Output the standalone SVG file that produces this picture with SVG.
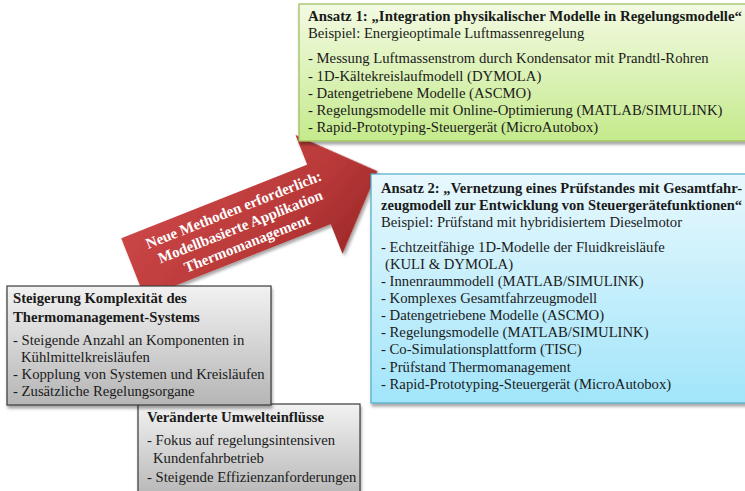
<svg xmlns="http://www.w3.org/2000/svg" width="745" height="491" viewBox="0 0 745 491">
<style>
  text { font-family: "Liberation Serif", "Times New Roman", serif; font-size: 14.7px; fill: #1a1a1a; }
  .b { font-weight: bold; }
  .at { font-size: 15px; font-weight: bold; fill: #ffffff; text-anchor: middle; }
</style>
<defs>
  <linearGradient id="gGreen" x1="0" y1="0" x2="0" y2="1">
    <stop offset="0" stop-color="#f3fae3"/>
    <stop offset="1" stop-color="#c5ea8c"/>
  </linearGradient>
  <linearGradient id="gBlue" x1="0" y1="0" x2="0" y2="1">
    <stop offset="0" stop-color="#e8f8fd"/>
    <stop offset="1" stop-color="#a2e5fa"/>
  </linearGradient>
  <linearGradient id="gGray" x1="0" y1="0" x2="0" y2="1">
    <stop offset="0" stop-color="#f2f2f2"/>
    <stop offset="1" stop-color="#b5b5b5"/>
  </linearGradient>
  <linearGradient id="gRed" x1="0" y1="0" x2="1" y2="1">
    <stop offset="0" stop-color="#d04a4a"/>
    <stop offset="0.6" stop-color="#b83838"/>
    <stop offset="1" stop-color="#962424"/>
  </linearGradient>
  <filter id="sh" x="-5%" y="-5%" width="110%" height="115%">
    <feDropShadow dx="1" dy="3" stdDeviation="1.5" flood-color="#000" flood-opacity="0.35"/>
  </filter>
</defs>

<g id="arrow" transform="translate(133,268) rotate(-21.6)">
  <polygon points="0,-32 200,-32 200,-64 263,0 200,64 200,32 0,32" fill="url(#gRed)" filter="url(#sh)"/>
  <text class="at" x="115" y="-12">Neue Methoden erforderlich:</text>
  <text class="at" x="115" y="6">Modellbasierte Applikation</text>
  <text class="at" x="115" y="24">Thermomanagement</text>
</g>

<g id="ansatz1">
  <rect x="299" y="4" width="450" height="137" fill="url(#gGreen)" stroke="#9bbb59" stroke-width="1.2" filter="url(#sh)"/>
  <text class="b" x="308" y="21" textLength="434" lengthAdjust="spacingAndGlyphs">Ansatz 1: „Integration physikalischer Modelle in Regelungsmodelle“</text>
  <text x="308" y="38">Beispiel: Energieoptimale Luftmassenregelung</text>
  <text x="308" y="63">- Messung Luftmassenstrom durch Kondensator mit Prandtl-Rohren</text>
  <text x="308" y="81">- 1D-Kältekreislaufmodell (DYMOLA)</text>
  <text x="308" y="98">- Datengetriebene Modelle (ASCMO)</text>
  <text x="308" y="115">- Regelungsmodelle mit Online-Optimierung (MATLAB/SIMULINK)</text>
  <text x="308" y="132">- Rapid-Prototyping-Steuergerät (MicroAutobox)</text>
</g>

<g id="ansatz2">
  <rect x="371" y="174" width="378" height="229" fill="url(#gBlue)" stroke="#4bacc6" stroke-width="1.2" filter="url(#sh)"/>
  <text class="b" x="381" y="193" textLength="361" lengthAdjust="spacingAndGlyphs">Ansatz 2: „Vernetzung eines Prüfstandes mit Gesamtfahr-</text>
  <text class="b" x="381" y="210" textLength="361" lengthAdjust="spacingAndGlyphs">zeugmodell zur Entwicklung von Steuergerätefunktionen“</text>
  <text x="381" y="227">Beispiel: Prüfstand mit hybridisiertem Dieselmotor</text>
  <text x="381" y="252">- Echtzeitfähige 1D-Modelle der Fluidkreisläufe</text>
  <text x="385" y="269">(KULI &amp; DYMOLA)</text>
  <text x="381" y="286">- Innenraummodell (MATLAB/SIMULINK)</text>
  <text x="381" y="303">- Komplexes Gesamtfahrzeugmodell</text>
  <text x="381" y="320">- Datengetriebene Modelle (ASCMO)</text>
  <text x="381" y="337">- Regelungsmodelle (MATLAB/SIMULINK)</text>
  <text x="381" y="354">- Co-Simulationsplattform (TISC)</text>
  <text x="381" y="372">- Prüfstand Thermomanagement</text>
  <text x="381" y="389">- Rapid-Prototyping-Steuergerät (MicroAutobox)</text>
</g>

<g id="umwelt">
  <rect x="138" y="404" width="222" height="95" fill="url(#gGray)" stroke="#3a3a3a" stroke-width="1.2" filter="url(#sh)"/>
  <text class="b" x="147" y="422">Veränderte Umwelteinflüsse</text>
  <text x="147" y="445">- Fokus auf regelungsintensiven</text>
  <text x="153" y="463">Kundenfahrbetrieb</text>
  <text x="147" y="482">- Steigende Effizienzanforderungen</text>
</g>

<g id="komplexitaet">
  <rect x="7" y="286" width="264" height="119" fill="url(#gGray)" stroke="#3a3a3a" stroke-width="1.2" filter="url(#sh)"/>
  <text class="b" x="13" y="303">Steigerung Komplexität des</text>
  <text class="b" x="13" y="322">Thermomanagement-Systems</text>
  <text x="13" y="345">- Steigende Anzahl an Komponenten in</text>
  <text x="21" y="362">Kühlmittelkreisläufen</text>
  <text x="13" y="379">- Kopplung von Systemen und Kreisläufen</text>
  <text x="13" y="396">- Zusätzliche Regelungsorgane</text>
</g>
<g id="connectors"></g>
</svg>
